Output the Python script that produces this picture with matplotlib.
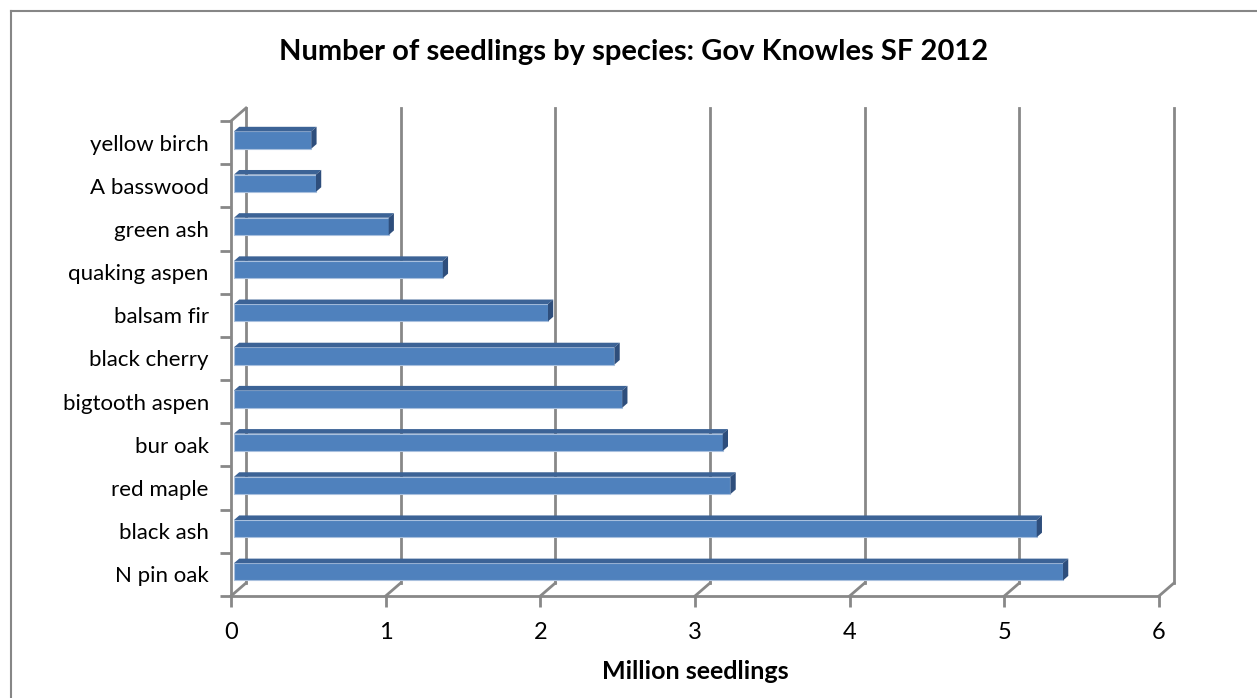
import matplotlib.pyplot as plt
from matplotlib.lines import Line2D
from matplotlib.patches import Polygon

# species listed bottom to top
species = ["N pin oak", "black ash", "red maple", "bur oak", "bigtooth aspen",
           "black cherry", "balsam fir", "quaking aspen", "green ash",
           "A basswood", "yellow birch"]
seedlings = [5.36, 5.19, 3.21, 3.16, 2.51, 2.46, 2.03, 1.35, 1.00, 0.53, 0.50]
xticks = [0, 1, 2, 3, 4, 5, 6]

W, H = 1257, 698
plt.rcParams['font.family'] = ['Lato', 'DejaVu Sans']
fig = plt.figure(figsize=(W / 100, H / 100), dpi=100)

# front plane of the 3-D box, in pixels
x0, x1 = 231, 1159
ytop, ybot = 121, 596
ax = fig.add_axes([x0 / W, (H - ybot) / H, (x1 - x0) / W, (ybot - ytop) / H])
n = len(species)
ax.set_xlim(0, 6)
ax.set_ylim(-0.5, n - 0.5)

# depth offset of the back wall, converted to data units
DX = 15 / ((x1 - x0) / 6)
DY = 13 / ((ybot - ytop) / n)
grid_c = '#888888'

# back wall gridlines and floor diagonals
for v in xticks:
    ax.add_line(Line2D([v + DX, v + DX], [-0.5 + DY, n - 0.5 + DY], color=grid_c,
                       lw=2, clip_on=False, zorder=1))
    ax.add_line(Line2D([v, v + DX], [-0.5, -0.5 + DY], color=grid_c,
                       lw=2, clip_on=False, zorder=1))
# top edge of the side wall
ax.add_line(Line2D([0, DX], [n - 0.5, n - 0.5 + DY], color=grid_c, lw=2,
                   clip_on=False, zorder=1))

# bars: front face plus top and end faces
d0, d1 = 0.2, 0.55
h = 0.4
front_c, top_c, side_c = '#4F81BD', '#3C6396', '#2E4E7C'
for i, v in enumerate(seedlings):
    yc = i + d0 * DY
    ax.barh(yc, v, left=d0 * DX, height=h, color=front_c,
            edgecolor='#A9C0DE', linewidth=0.8, zorder=3)
    l, r = d0 * DX, v + d0 * DX
    yt, yb = yc + h / 2, yc - h / 2
    ddx, ddy = (d1 - d0) * DX, (d1 - d0) * DY
    ax.add_patch(Polygon([(l, yt), (l + ddx, yt + ddy), (r + ddx, yt + ddy), (r, yt)],
                         closed=True, facecolor=top_c, edgecolor='none', zorder=3))
    ax.add_patch(Polygon([(r, yb), (r, yt), (r + ddx, yt + ddy), (r + ddx, yb + ddy)],
                         closed=True, facecolor=side_c, edgecolor='none', zorder=3))

for s in ['top', 'right']:
    ax.spines[s].set_visible(False)
for s in ['left', 'bottom']:
    ax.spines[s].set_color(grid_c)
    ax.spines[s].set_linewidth(2)

ax.set_xticks(xticks)
ax.set_xticklabels([str(t) for t in xticks], fontsize=17)
ax.tick_params(axis='x', length=8, width=2, color=grid_c, pad=11)
ax.set_yticks(range(n))
ax.set_yticklabels(species, fontsize=16)
ax.tick_params(axis='y', length=0, pad=16)
ax.set_yticks([i - 0.5 for i in range(n + 1)], minor=True)
ax.tick_params(axis='y', which='minor', length=8, width=2, color=grid_c)

ax.set_xlabel('Million seedlings', fontsize=18, fontweight='bold', labelpad=12)
fig.text(634 / W, 1 - 52 / H, 'Number of seedlings by species: Gov Knowles SF 2012',
         ha='center', va='center', fontsize=21, fontweight='bold')

# chart area border (left and top edges)
fig.add_artist(Line2D([11 / W, 11 / W], [0, 1 - 11 / H], color='#868686', lw=1.5))
fig.add_artist(Line2D([11 / W, 1], [1 - 11 / H, 1 - 11 / H], color='#868686', lw=1.5))

fig.savefig('out.png', dpi=100)
